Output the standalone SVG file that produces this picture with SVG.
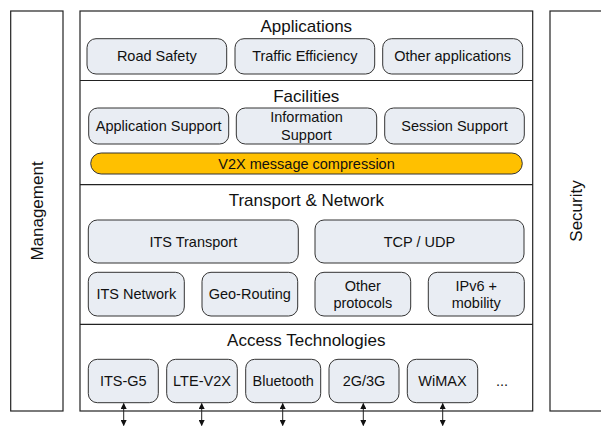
<svg xmlns="http://www.w3.org/2000/svg" width="601" height="426" viewBox="0 0 601 426">
<defs>
<style>
text{font-family:"Liberation Sans",Arial,sans-serif;fill:#111;text-anchor:middle;dominant-baseline:central}
.frame{fill:#fff;stroke:#222;stroke-width:1.2}
.box{fill:#e9edf3;stroke:#333;stroke-width:1}
.bar{fill:#ffc000;stroke:#333;stroke-width:1}
.sep{stroke:#222;stroke-width:1.2;fill:none}
.t{font-size:14.5px}
.h{font-size:17px}
.conn{stroke:#222;stroke-width:1;fill:none;marker-start:url(#ah);marker-end:url(#ah)}
</style>
<marker id="ah" viewBox="0 0 10 10" refX="9" refY="5" markerWidth="6" markerHeight="6" orient="auto-start-reverse" markerUnits="userSpaceOnUse">
<path d="M0,0 L10,5 L0,10 z" fill="#111"/>
</marker>
</defs>
<rect width="601" height="426" fill="#fff"/>

<g id="management">
<rect class="frame" x="10.7" y="11" width="52.3" height="400"/>
<text class="h" transform="translate(37,211) rotate(-90)">Management</text>
</g>
<g id="security">
<rect class="frame" x="550" y="11" width="60" height="400"/>
<text class="h" transform="translate(576,211) rotate(-90)">Security</text>
</g>

<g id="stack">
<rect class="frame" x="80" y="11" width="452.7" height="400"/>
<line class="sep" x1="80" y1="80.5" x2="532.7" y2="80.5"/>
<line class="sep" x1="80" y1="184.7" x2="532.7" y2="184.7"/>
<line class="sep" x1="80" y1="324.3" x2="532.7" y2="324.3"/>
</g>

<g id="applications">
<text class="h" x="306.3" y="26">Applications</text>
</g>
<g id="road-safety"><rect class="box" x="87" y="38.7" width="139.7" height="35.3" rx="9"/><text class="t" x="156.8" y="56.3">Road Safety</text></g>
<g id="traffic-efficiency"><rect class="box" x="235" y="38.7" width="139.7" height="35.3" rx="9"/><text class="t" x="304.8" y="56.3">Traffic Efficiency</text></g>
<g id="other-applications"><rect class="box" x="382.7" y="38.7" width="140" height="35.3" rx="9"/><text class="t" x="452.7" y="56.3">Other applications</text></g>

<g id="facilities">
<text class="h" x="306.3" y="96.5">Facilities</text>
</g>
<g id="application-support"><rect class="box" x="88.7" y="108" width="140" height="36" rx="9"/><text class="t" x="158.7" y="126">Application Support</text></g>
<g id="information-support"><rect class="box" x="236.3" y="108" width="140.4" height="36" rx="9"/><text class="t" x="306.5" y="117">Information</text><text class="t" x="306.5" y="135">Support</text></g>
<g id="session-support"><rect class="box" x="384.7" y="108" width="139.6" height="36" rx="9"/><text class="t" x="454.5" y="126">Session Support</text></g>
<g id="v2x-compression"><rect class="bar" x="90.7" y="153" width="431.6" height="21" rx="10.5"/><text class="t" x="306.5" y="163.5">V2X message compression</text></g>

<g id="transport-network">
<text class="h" x="306.3" y="200.5">Transport &amp; Network</text>
</g>
<g id="its-transport"><rect class="box" x="88.3" y="220" width="210" height="43" rx="9"/><text class="t" x="193.3" y="241.5">ITS Transport</text></g>
<g id="tcp-udp"><rect class="box" x="315" y="220" width="209" height="43" rx="9"/><text class="t" x="419.5" y="241.5">TCP / UDP</text></g>
<g id="its-network"><rect class="box" x="88.3" y="272.3" width="96" height="43.7" rx="9"/><text class="t" x="136.3" y="294.2">ITS Network</text></g>
<g id="geo-routing"><rect class="box" x="202" y="272.3" width="95.7" height="43.7" rx="9"/><text class="t" x="249.8" y="294.2">Geo-Routing</text></g>
<g id="other-protocols"><rect class="box" x="315" y="272.3" width="95.7" height="43.7" rx="9"/><text class="t" x="362.8" y="285.5">Other</text><text class="t" x="362.8" y="303">protocols</text></g>
<g id="ipv6-mobility"><rect class="box" x="428.3" y="272.3" width="96" height="43.7" rx="9"/><text class="t" x="476.3" y="285.5">IPv6 +</text><text class="t" x="476.3" y="303">mobility</text></g>

<g id="access-technologies">
<text class="h" x="306.3" y="340">Access Technologies</text>
</g>
<g id="its-g5"><rect class="box" x="88.3" y="359.3" width="70" height="43.4" rx="9"/><text class="t" x="123.3" y="381">ITS-G5</text></g>
<g id="lte-v2x"><rect class="box" x="166.7" y="359.3" width="70.6" height="43.4" rx="9"/><text class="t" x="202" y="381">LTE-V2X</text></g>
<g id="bluetooth"><rect class="box" x="245.7" y="359.3" width="75" height="43.4" rx="9"/><text class="t" x="283.2" y="381">Bluetooth</text></g>
<g id="g2g3"><rect class="box" x="329" y="359.3" width="70" height="43.4" rx="9"/><text class="t" x="364" y="381">2G/3G</text></g>
<g id="wimax"><rect class="box" x="407.3" y="359.3" width="70.4" height="43.4" rx="9"/><text class="t" x="442.5" y="381">WiMAX</text></g>
<g id="more"><text class="t" x="502" y="381">...</text></g>

<g id="connectors">
<line class="conn" x1="123.7" y1="403.5" x2="123.7" y2="425.5"/>
<line class="conn" x1="201.7" y1="403.5" x2="201.7" y2="425.5"/>
<line class="conn" x1="282.7" y1="403.5" x2="282.7" y2="425.5"/>
<line class="conn" x1="363.3" y1="403.5" x2="363.3" y2="425.5"/>
<line class="conn" x1="442.7" y1="403.5" x2="442.7" y2="425.5"/>
</g>
</svg>
